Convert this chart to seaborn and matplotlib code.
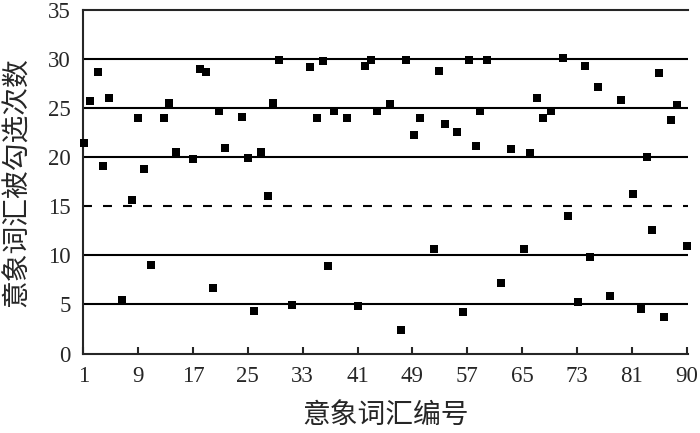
import numpy as np
import pandas as pd
import matplotlib
matplotlib.use('Agg')
import matplotlib.pyplot as plt
import seaborn as sns

# ------------------------------------------------------
# DATA
# ------------------------------------------------------

word_id = [1.1, 2.0, 3.1, 3.9, 4.8, 6.6, 8.1, 9.0, 9.9, 10.8,
           12.7, 13.5, 14.5, 17.0, 18.0, 18.9, 19.9, 20.8, 21.6, 24.1,
           25.0, 25.9, 26.9, 27.9, 28.7, 29.6, 31.4, 34.0, 35.1, 36.0,
           36.7, 37.6, 39.4, 41.0, 42.1, 43.0, 43.9, 45.7, 47.4, 48.1,
           49.2, 50.1, 52.1, 52.9, 53.8, 55.5, 56.4, 57.3, 58.2, 58.8,
           59.8, 61.9, 63.4, 65.3, 66.2, 67.1, 68.0, 69.2, 70.9, 71.7,
           73.1, 74.2, 74.9, 76.1, 77.8, 79.4, 81.2, 82.4, 83.2, 84.0,
           84.9, 85.7, 86.7, 87.6, 89.1]
times_chosen = [21.4, 25.7, 28.7, 19.1, 26.0, 5.5, 15.6, 24.0, 18.8, 9.0,
                24.0, 25.5, 20.5, 19.8, 29.0, 28.7, 6.7, 24.7, 20.9, 24.1,
                19.9, 4.3, 20.5, 16.0, 25.5, 29.9, 4.9, 29.2, 24.0, 29.8,
                8.9, 24.7, 24.0, 4.8, 29.3, 29.9, 24.7, 25.4, 2.4, 29.9,
                22.3, 24.0, 10.6, 28.8, 23.4, 22.6, 4.2, 29.9, 21.1, 24.7,
                29.9, 7.2, 20.8, 10.6, 20.4, 26.0, 24.0, 24.7, 30.1, 14.0,
                5.2, 29.3, 9.8, 27.2, 5.9, 25.8, 16.2, 4.5, 20.0, 12.6,
                28.6, 3.7, 23.8, 25.3, 11.0]

x_tick_pos = [1, 9, 17, 25, 33, 41, 49, 57, 65, 73, 81, 89]
x_tick_labels = ['1', '9', '17', '25', '33', '41', '49', '57', '65', '73', '81', '90']
y_ticks = [0, 5, 10, 15, 20, 25, 30, 35]
solid_levels = [5, 10, 20, 25, 30]
dashed_level = 15

data = pd.DataFrame({'id': word_id, 'count': times_chosen})

# ------------------------------------------------------
# PLOT
# ------------------------------------------------------

sns.set_style('ticks')
plt.rcParams['font.family'] = ['Liberation Serif', 'Noto Sans CJK SC', 'DejaVu Sans']

fig = plt.figure(figsize=(7, 4.33), dpi=100)
ax = fig.add_axes([0.119, 0.1836, 0.864, 0.7934])

# reference lines
for lvl in solid_levels:
	ax.axhline(lvl, color='black', lw=1.5, zorder=1)
ax.axhline(dashed_level, color='black', lw=1.5, ls=(0, (4.3, 5.3)), zorder=1)

sns.scatterplot(data=data, x='id', y='count', marker='s', s=28, color='black',
	edgecolor='black', linewidth=0, ax=ax, zorder=3, clip_on=False)

ax.set_xlim(1, 89.2)
ax.set_ylim(0, 35)
ax.set_xticks(x_tick_pos)
ax.set_xticklabels(x_tick_labels)
ax.set_yticks(y_ticks)

ax.tick_params(axis='x', direction='in', length=5, width=1.5, labelsize=16.5, pad=9)
ax.tick_params(axis='y', length=0, labelsize=16.5, pad=9)
for lab in ax.get_xticklabels() + ax.get_yticklabels():
	lab.set_family('Liberation Serif')

for side in ['left', 'bottom', 'top']:
	ax.spines[side].set_linewidth(1.5)
ax.spines['right'].set_visible(False)

ax.set_xlabel('意象词汇编号', fontsize=20, labelpad=9,
	family=['Noto Sans CJK SC', 'DejaVu Sans'])
ax.set_ylabel('意象词汇被勾选次数', fontsize=20, labelpad=12,
	family=['Noto Sans CJK SC', 'DejaVu Sans'])

fig.savefig('out.png', dpi=100)
